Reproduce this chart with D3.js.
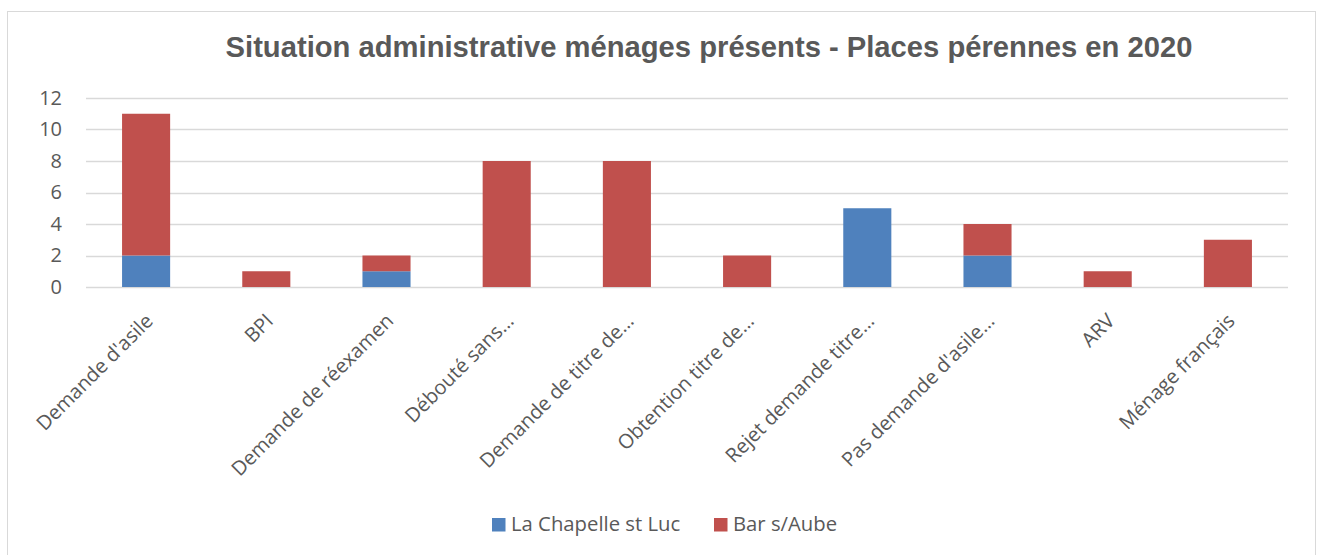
<!DOCTYPE html>
<meta charset="utf-8">
<style>
body { margin: 0; background: #fff; }
text { font-family: "Open Sans", sans-serif; fill: #595959; }
</style>
<script src="https://d3js.org/d3.v7.min.js"></script>
<div id="chart"></div>
<script>
// data
var categories = ["Demande d'asile", "BPI", "Demande de réexamen", "Débouté sans…",
  "Demande de titre de…", "Obtention titre de…", "Rejet demande titre…",
  "Pas demande d'asile…", "ARV", "Ménage français"];
var chapelle = [2, 0, 1, 0, 0, 0, 5, 2, 0, 0];
var barAube = [9, 1, 1, 8, 8, 2, 0, 2, 1, 3];
var seriesNames = ["La Chapelle st Luc", "Bar s/Aube"];
var seriesColors = ["#4f81bd", "#c0504d"];
var yTicks = [0, 2, 4, 6, 8, 10, 12];

var W = 1319, H = 555;
var margin = {top: 98, right: 31, bottom: 268, left: 86};
var width = W - margin.left - margin.right,
    height = H - margin.top - margin.bottom;

var svg = d3.select("#chart").append("svg")
  .attr("width", W).attr("height", H);

// outer frame
svg.append("rect")
  .attr("x", 7.5).attr("y", 11.5)
  .attr("width", 1308).attr("height", 560)
  .attr("fill", "none").attr("stroke", "#d9d9d9");

svg.append("text")
  .attr("x", 709).attr("y", 57)
  .attr("text-anchor", "middle")
  .style("font-family", "'Liberation Sans', Arial, sans-serif")
  .style("font-weight", "bold")
  .style("font-size", "29.2px")
  .text("Situation administrative ménages présents - Places pérennes en 2020");

var g = svg.append("g")
  .attr("transform", "translate(" + margin.left + "," + margin.top + ")");

var x = d3.scaleBand().domain(categories).range([0, width]).paddingInner(0.6).paddingOuter(0.3);
var y = d3.scaleLinear().domain([0, 12]).range([height, 0]);

// gridlines
g.selectAll(".grid")
  .data(yTicks)
  .enter().append("line")
  .attr("x1", 0).attr("x2", width)
  .attr("y1", function(d) { return Math.round(y(d)) + 0.5; })
  .attr("y2", function(d) { return Math.round(y(d)) + 0.5; })
  .attr("stroke", "#d9d9d9").attr("stroke-width", 1.3);

var yAxis = d3.axisLeft(y).tickValues(yTicks).tickSize(0).tickPadding(24);
g.append("g").call(yAxis)
  .call(function(s) { s.select(".domain").remove(); })
  .selectAll("text")
  .style("font-size", "20px").style("fill", "#595959");

// stacked bars
var rows = categories.map(function(c, i) {
  return {cat: c, a: chapelle[i], b: barAube[i]};
});
var stack = d3.stack().keys(["a", "b"])(rows);

g.selectAll(".series")
  .data(stack)
  .enter().append("g")
  .attr("fill", function(d, i) { return seriesColors[i]; })
  .selectAll("rect")
  .data(function(d) { return d.filter(function(p) { return p[1] > p[0]; }); })
  .enter().append("rect")
  .attr("x", function(d) { return x(d.data.cat); })
  .attr("width", x.bandwidth())
  .attr("y", function(d) { return y(d[1]); })
  .attr("height", function(d) { return y(d[0]) - y(d[1]); });

// x labels, rotated
var xAxis = d3.axisBottom(x).tickSize(0).tickPadding(0);
g.append("g")
  .attr("transform", "translate(0," + height + ")")
  .call(xAxis)
  .call(function(s) { s.select(".domain").remove(); })
  .selectAll("text")
  .style("font-size", "20px").style("fill", "#595959")
  .style("text-anchor", "end")
  .attr("dy", "0.72em")
  .attr("y", 0)
  .attr("transform", "translate(-2,25) rotate(-45)");

// legend
var legend = svg.append("g");
var lx = [492, 714];
seriesNames.forEach(function(name, i) {
  legend.append("rect")
    .attr("x", lx[i]).attr("y", 518)
    .attr("width", 13.5).attr("height", 13.5)
    .attr("fill", seriesColors[i]);
  legend.append("text")
    .attr("x", lx[i] + 19).attr("y", 531)
    .style("font-size", "20.3px")
    .text(name);
});
</script>
